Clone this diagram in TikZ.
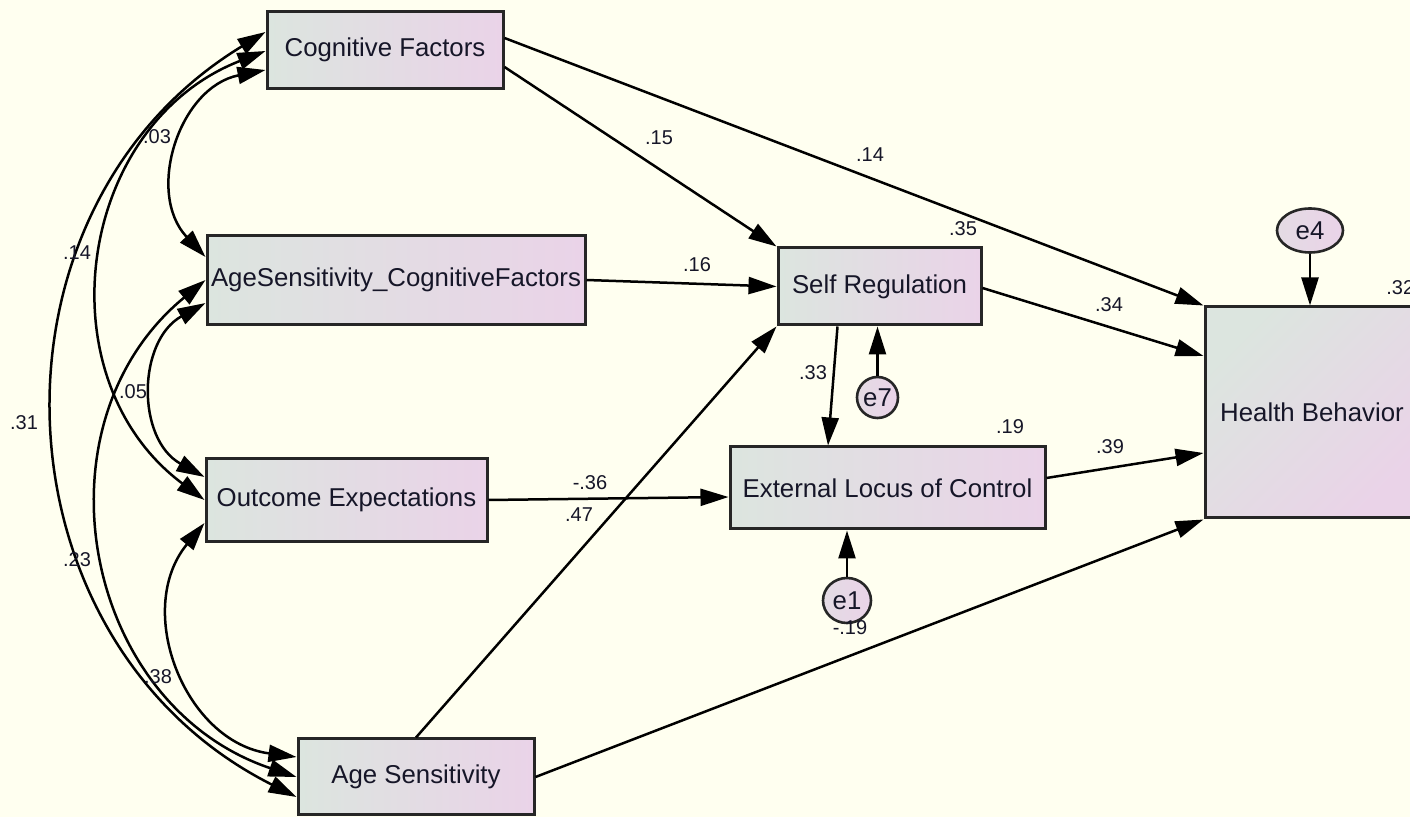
\documentclass[tikz,border=0pt]{standalone}
\usepackage{fontspec}
\setmainfont{Liberation Sans}
\usetikzlibrary{arrows.meta,calc,shapes.geometric}

\definecolor{bgivory}{RGB}{255,255,240}
\definecolor{fillgreen}{RGB}{220,229,223}
\definecolor{fillpink}{RGB}{234,211,232}
\definecolor{edgegray}{RGB}{38,38,38}
\definecolor{inkdark}{RGB}{22,22,40}

\begin{document}
\begin{tikzpicture}[x=0.5pt,y=-0.5pt,
  var/.style={draw=edgegray, line width=1.5pt, rectangle, left color=fillgreen,
    right color=fillpink, inner sep=0pt, text=inkdark,
    font=\fontsize{12.9}{15}\selectfont},
  err/.style={draw=edgegray, line width=1.3pt, ellipse, left color=fillgreen!45!fillpink,
    right color=fillpink, inner sep=0pt, text=inkdark,
    font=\fontsize{12.9}{15}\selectfont},
  reg/.style={line width=1.25pt, draw=black, -{Triangle[length=14pt,width=8.5pt]}},
  cov/.style={line width=1.25pt, draw=black,
    {Triangle[length=14pt,width=8.5pt]}-{Triangle[length=14pt,width=8.5pt]}, looseness=1.147},
  coef/.style={inner sep=0pt, text=inkdark, font=\fontsize{10}{12}\selectfont}
]
\useasboundingbox (0,0) rectangle (1410,817);
\fill[bgivory] (0,0) rectangle (1410,817);
\clip (0,0) rectangle (1410,817);

% observed and endogenous variables
\node[var, minimum width=118pt, minimum height=38.5pt] (cf) at (385,50) {Cognitive Factors};
\node[var, minimum width=189pt, minimum height=44.5pt] (ascf) at (396,280) {AgeSensitivity\_CognitiveFactors};
\node[var, minimum width=140.5pt, minimum height=41.5pt] (oe) at (346.5,500) {Outcome Expectations};
\node[var, minimum width=118pt, minimum height=38pt] (as) at (416,777) {Age Sensitivity};
\node[var, minimum width=101.5pt, minimum height=38.5pt] (sr) at (879.5,286.5) {Self Regulation};
\node[var, minimum width=157.5pt, minimum height=41pt] (elc) at (887.5,488) {External Locus of Control};
\node[var, left color=fillgreen, right color=fillpink, shading angle=45,
  minimum width=107pt, minimum height=105.5pt] (hb) at (1312,412.5) {Health Behavior};

% error terms
\node[err, minimum width=33pt, minimum height=22pt] (e4) at (1310,230.5) {e4};
\node[err, minimum width=20.5pt, minimum height=20.5pt] (e7) at (877.5,397.5) {e7};
\node[err, minimum width=24pt, minimum height=22.5pt] (e1) at (847,600.5) {e1};

% regression paths
\draw[reg] ($(cf.east)+(0,-12)$) -- (hb.north west);
\draw[reg] ($(cf.east)+(0,17)$) -- (sr.north west);
\draw[reg] (ascf.east) -- (sr.west);
\draw[reg] (as.north) -- (sr.south west);
\draw[reg] (oe.east) -- ($(elc.west)+(0,9)$);
\draw[reg] ($(sr.south)+(-42,0)$) -- ($(elc.north)+(-59.5,0)$);
\draw[reg] ($(sr.east)+(0,1.5)$) -- ($(hb.west)+(0,-56.5)$);
\draw[reg] ($(elc.east)+(0,-10)$) -- ($(hb.west)+(0,40.5)$);
\draw[reg] (as.east) -- (hb.south west);
\draw[reg] (e7.north) -- (e7.north |- sr.south);
\draw[reg] (e1.north) -- (e1.north |- elc.south);
\draw[reg] (e4.south) -- (e4.south |- hb.north);

% covariances among exogenous variables
\draw[cov] ($(cf.west)+(0,-18)$) to[out=211.3,in=153.3] ($(as.west)+(0,20)$);
\draw[cov] ($(cf.west)+(0,1)$) to[out=201.3,in=143.3] (oe.west);
\draw[cov] ($(cf.west)+(0,20)$) to[out=191.2,in=133.2] ($(ascf.west)+(0,-23)$);
\draw[cov] ($(ascf.west)+(0,23)$) to[out=209,in=151] ($(oe.west)+(0,-23)$);
\draw[cov] (ascf.west) to[out=219.4,in=161.4] (as.west);
\draw[cov] ($(oe.west)+(0,23)$) to[out=230.5,in=172.5] ($(as.west)+(0,-20)$);

% covariance estimates
\node[coef] (k31) at (24,423) {.31};
\node[coef] (k14) at (77,253) {.14};
\node[coef] (k03) at (157,137) {.03};
\node[coef] (k05) at (133,392) {.05};
\node[coef] (k23) at (77,560) {.23};
\node[coef] (k38) at (158,677) {.38};

% path coefficients
\node[coef] (p15) at (659,138) {.15};
\node[coef] (p14) at (870,155) {.14};
\node[coef] (p16) at (697,265) {.16};
\node[coef] (p34) at (1109,305) {.34};
\node[coef] (p33) at (813,373) {.33};
\node[coef] (p39) at (1110,447) {.39};
\node[coef] (p36) at (590,483) {-.36};
\node[coef] (p47) at (579,515) {.47};
\node[coef] (p19) at (850,628) {-.19};

% squared multiple correlations
\node[coef] (r35) at (963,229) {.35};
\node[coef] (r19) at (1010,427) {.19};
\node[coef, anchor=west] (r32) at (1386,288) {.32};
\end{tikzpicture}
\end{document}
